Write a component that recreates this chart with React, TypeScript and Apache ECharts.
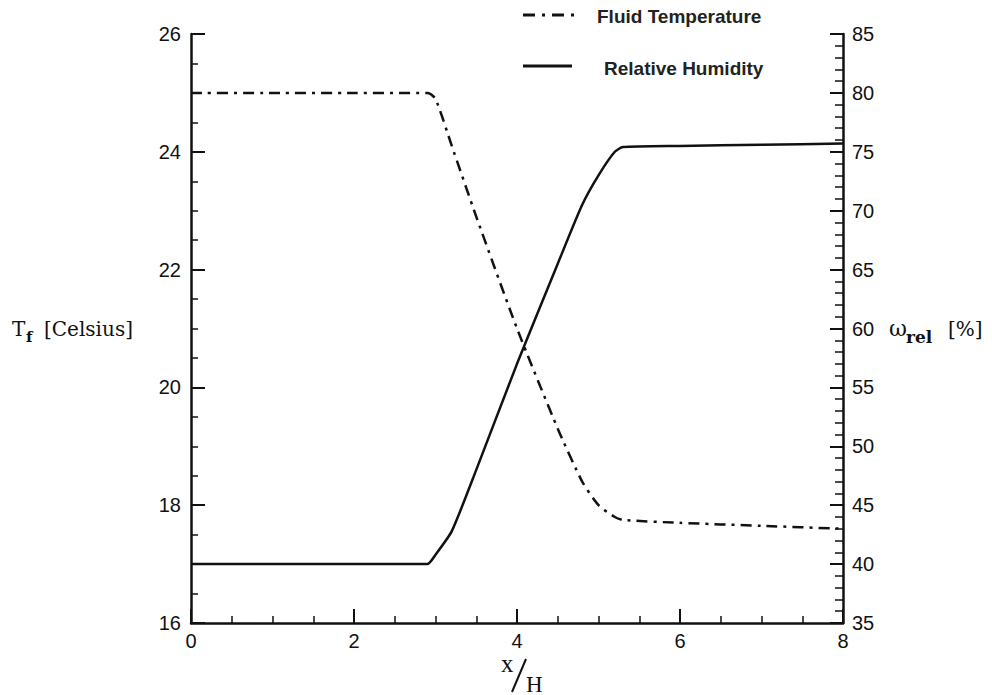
import React, { useEffect, useRef } from "react";
import * as echarts from "echarts";

const xTicks = [0, 2, 4, 6, 8];
const tempX = [0, 1, 2, 2.9, 3.0, 3.2, 3.5, 4.0, 4.5, 4.8, 5.0, 5.2, 5.3, 6.0, 7.0, 8.0];
const tempY = [25, 25, 25, 25, 24.9, 24.1, 22.9, 21.0, 19.3, 18.4, 18.0, 17.8, 17.75, 17.7, 17.65, 17.6];
const humX = [0, 1, 2, 2.9, 3.0, 3.2, 3.5, 4.0, 4.5, 4.8, 5.0, 5.2, 5.3, 6.0, 7.0, 8.0];
const humY = [40, 40, 40, 40, 40.8, 42.8, 48, 57, 65.5, 70.5, 73, 75, 75.4, 75.5, 75.6, 75.7];
const legendNames = ["Fluid Temperature", "Relative Humidity"];

export default function App() {
  const ref = useRef<HTMLDivElement>(null);
  useEffect(() => {
    const chart = echarts.init(ref.current!, null, { renderer: "svg" });
    const axisFont = { fontFamily: "Liberation Sans, Arial, sans-serif", fontSize: 20, color: "#111" };
    const serif = "DejaVu Serif, Liberation Serif, serif";
    const serif2 = "Liberation Serif, serif";
    chart.setOption({
      animation: false,
      backgroundColor: "#ffffff",
      grid: { left: 191, right: 149, top: 34, bottom: 72 },
      xAxis: {
        type: "value",
        min: xTicks[0],
        max: xTicks[xTicks.length - 1],
        interval: 2,
        axisLine: { show: true, lineStyle: { color: "#111", width: 2.5 } },
        axisTick: { show: true, inside: true, length: 14, lineStyle: { color: "#111", width: 2 } },
        minorTick: { show: true, splitNumber: 4, length: 7, lineStyle: { color: "#111", width: 1.5 } },
        splitLine: { show: false },
        axisLabel: { ...axisFont, margin: 8 },
      },
      yAxis: [
        {
          type: "value",
          min: 16,
          max: 26,
          interval: 2,
          position: "left",
          axisLine: { show: true, lineStyle: { color: "#111", width: 2.5 } },
          axisTick: { show: true, inside: true, length: 14, lineStyle: { color: "#111", width: 2 } },
          minorTick: { show: true, splitNumber: 4, length: 7, lineStyle: { color: "#111", width: 1.5 } },
          splitLine: { show: false },
          axisLabel: { ...axisFont, margin: 10 },
        },
        {
          type: "value",
          min: 35,
          max: 85,
          interval: 5,
          position: "right",
          axisLine: { show: true, lineStyle: { color: "#111", width: 2.5 } },
          axisTick: { show: true, inside: true, length: 13, lineStyle: { color: "#111", width: 2 } },
          minorTick: { show: true, splitNumber: 5, length: 8, lineStyle: { color: "#111", width: 1.5 } },
          splitLine: { show: false },
          axisLabel: { ...axisFont, margin: 9 },
        },
      ],
      series: [
        {
          name: legendNames[0],
          type: "line",
          yAxisIndex: 0,
          data: tempX.map((x, i) => [x, tempY[i]]),
          showSymbol: false,
          smooth: 0.2,
          lineStyle: { color: "#111", width: 2.5, type: [11, 6, 3, 6] },
        },
        {
          name: legendNames[1],
          type: "line",
          yAxisIndex: 1,
          data: humX.map((x, i) => [x, humY[i]]),
          showSymbol: false,
          smooth: 0.2,
          lineStyle: { color: "#111", width: 2.5 },
        },
      ],
      graphic: [
        { type: "line", shape: { x1: 523, y1: 15, x2: 575, y2: 15 }, style: { stroke: "#111", lineWidth: 3, lineDash: [12, 7, 3, 7] } },
        { type: "text", x: 597, y: 16, style: { text: legendNames[0], font: "bold 19px Liberation Sans, Arial, sans-serif", fill: "#222", verticalAlign: "middle" } },
        { type: "line", shape: { x1: 523, y1: 66, x2: 572, y2: 66 }, style: { stroke: "#111", lineWidth: 3 } },
        { type: "text", x: 604, y: 68, style: { text: legendNames[1], font: "bold 19px Liberation Sans, Arial, sans-serif", fill: "#222", verticalAlign: "middle" } },
        // left axis name
        { type: "text", x: 12, y: 329, style: { text: "T", font: `20px ${serif}`, fill: "#111", verticalAlign: "middle" } },
        { type: "text", x: 26, y: 337, style: { text: "f", font: `bold 15px ${serif}`, fill: "#111", verticalAlign: "middle" } },
        { type: "text", x: 44, y: 329, style: { text: "[Celsius]", font: `20px ${serif}`, fill: "#111", verticalAlign: "middle" } },
        // right axis name
        { type: "text", x: 889, y: 328, style: { text: "ω", font: `22px ${serif}`, fill: "#111", verticalAlign: "middle" } },
        { type: "text", x: 906, y: 337, style: { text: "rel", font: `bold 17px ${serif}`, fill: "#111", verticalAlign: "middle" } },
        { type: "text", x: 948, y: 329, style: { text: "[%]", font: `20px ${serif}`, fill: "#111", verticalAlign: "middle" } },
        // x axis name
        { type: "text", x: 501, y: 663, style: { text: "x", font: `25px ${serif2}`, fill: "#111", verticalAlign: "middle" } },
        { type: "line", shape: { x1: 526, y1: 659, x2: 512, y2: 692 }, style: { stroke: "#111", lineWidth: 2 } },
        { type: "text", x: 526, y: 684, style: { text: "H", font: `23px ${serif2}`, fill: "#111", verticalAlign: "middle" } },
      ],
    });
    return () => chart.dispose();
  }, []);
  return <div ref={ref} style={{ width: 992, height: 695, position: "absolute", left: 0, top: 0 }} />;
}
